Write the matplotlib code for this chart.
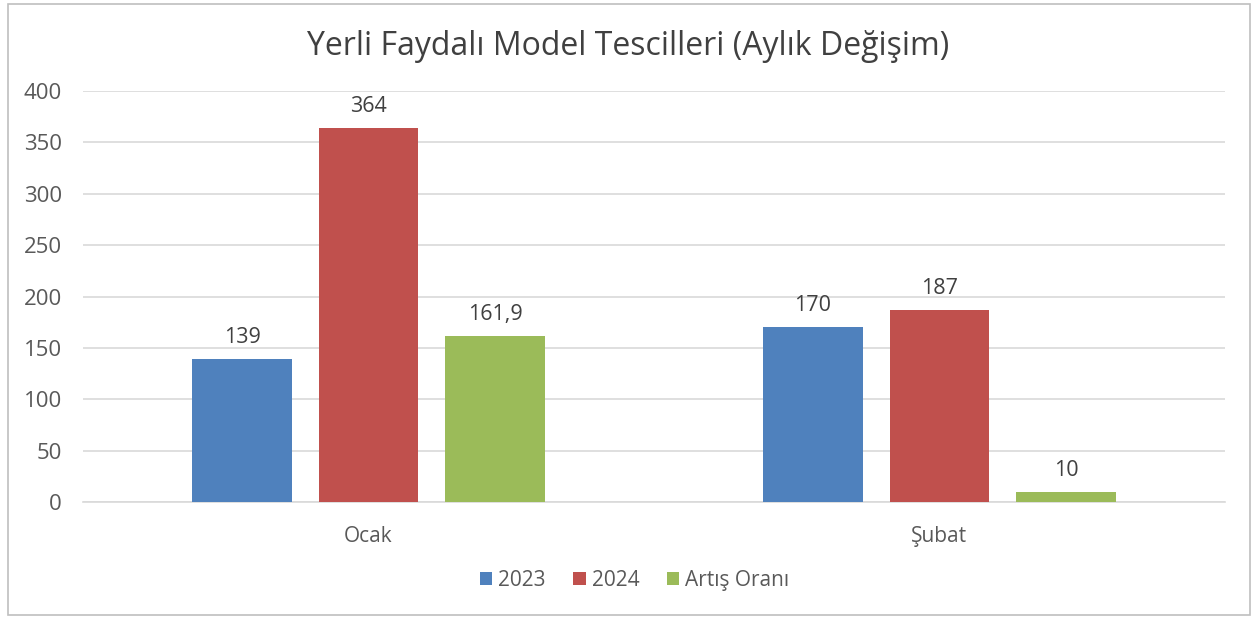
import matplotlib
matplotlib.use("Agg")
import matplotlib.pyplot as plt
from matplotlib.patches import Rectangle

plt.rcParams['font.family'] = ['Open Sans', 'DejaVu Sans']

# data
months = ["Ocak", "Şubat"]
series = ["2023", "2024", "Artış Oranı"]
v2023 = [139, 170]
v2024 = [364, 187]
artis = [161.9, 10]
colors = ["#4F81BD", "#C0504D", "#9BBB59"]

fig = plt.figure(figsize=(12.55, 6.19), dpi=100)
fig.patches.append(Rectangle((0.006, 0.006), 0.99, 0.988, transform=fig.transFigure,
                             fill=False, edgecolor="#BFBFBF", linewidth=1.2))
ax = fig.add_axes([0.0661, 0.189, 0.910, 0.664])

w = 0.175
step = 0.2215
x = list(range(len(months)))
for i, (vals, c, name) in enumerate(zip([v2023, v2024, artis], colors, series)):
    xs = [xi + (i - 1) * step for xi in x]
    bars = ax.bar(xs, vals, width=w, color=c, label=name, zorder=3)
    for b, v in zip(bars, vals):
        txt = ("%g" % v).replace(".", ",")
        ax.annotate(txt, (b.get_x() + b.get_width() / 2, v), xytext=(0, 8),
                    textcoords="offset points", ha="center", va="bottom",
                    fontsize=15.5, color="#404040")

ax.set_xlim(-0.5, 1.5)
ax.set_ylim(0, 400)
ax.set_yticks(range(0, 401, 50))
ax.set_xticks(x)
ax.set_xticklabels(months)
ax.grid(axis="y", color="#D9D9D9", linewidth=1.2, zorder=0)
for s in ["top", "right", "left"]:
    ax.spines[s].set_visible(False)
ax.spines["bottom"].set_color("#D9D9D9")
ax.spines["bottom"].set_linewidth(1.2)
ax.tick_params(axis="y", length=0, labelsize=16, colors="#595959", pad=15)
ax.tick_params(axis="x", length=0, labelsize=15, colors="#595959", pad=17)

ax.set_title("Yerli Faydalı Model Tescilleri (Aylık Değişim)", fontsize=23,
             color="#404040", pad=26, x=0.477)

ax.legend(loc="center", bbox_to_anchor=(0.483, -0.19), ncol=3, frameon=False,
          fontsize=15, handlelength=0.6, handleheight=0.6, handletextpad=0.3,
          columnspacing=1.3, labelcolor="#595959")

fig.savefig("out.png", dpi=100)
